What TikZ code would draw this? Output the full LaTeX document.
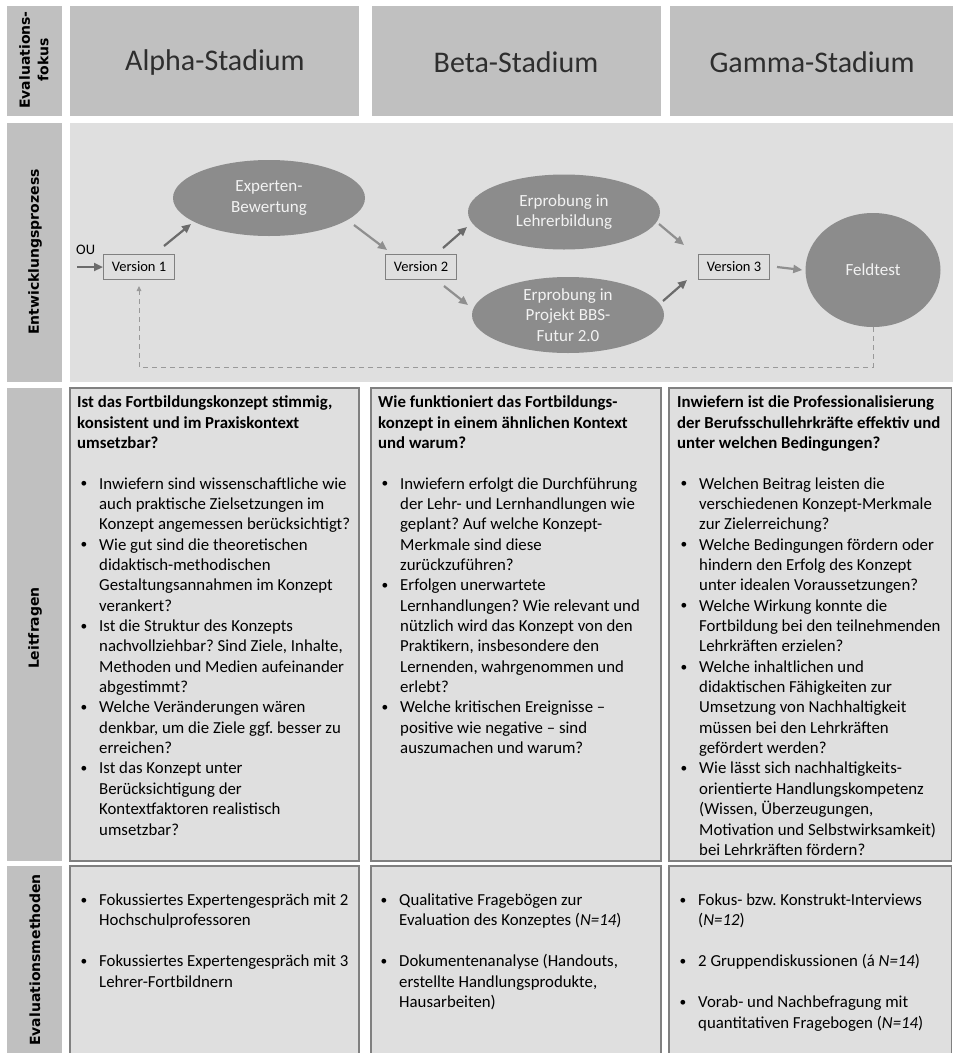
\documentclass[tikz,border=0pt]{standalone}
\usepackage{fontspec}
\setmainfont{Carlito}
\newfontfamily\lblfont{DejaVu Sans}
\usepackage{array}
\usepackage{graphicx}
\usetikzlibrary{arrows.meta,shapes.geometric,calc}
\definecolor{hdrgray}{gray}{0.753}
\definecolor{pnlgray}{gray}{0.875}
\definecolor{ellgray}{gray}{0.55}
\definecolor{brdgray}{gray}{0.5}
\definecolor{arrdark}{gray}{0.42}
\definecolor{arrlight}{gray}{0.56}
\definecolor{dashgray}{gray}{0.6}
\definecolor{elltext}{gray}{0.95}
\newcommand\qfont{\fontsize{16.8pt}{20.35pt}\selectfont}
\newcommand\mfont{\fontsize{16.8pt}{20.5pt}\selectfont}
\newcommand\vfont{\fontsize{14.5pt}{17pt}\selectfont}
\newcommand\bl{\makebox[22pt][l]{\hspace{3.5pt}\raisebox{0.15ex}{\scalebox{0.8}{\textbullet}}}}
\newcommand\ttl[1]{\multicolumn{2}{@{}l@{}}{\bfseries #1}}
\frenchspacing
\begin{document}
\begin{tikzpicture}[x=1pt,y=-1pt,
  hdrbox/.style={fill=hdrgray},
  lbl/.style={rotate=90, font=\lblfont\bfseries\fontsize{14pt}{18.5pt}\selectfont, align=center, inner sep=0pt},
  stage/.style={font=\fontsize{30pt}{36pt}\selectfont, text=black!82, inner sep=0pt},
  qbox/.style={draw=brdgray, fill=pnlgray, line width=1.2pt},
  ver/.style={draw=brdgray, fill=pnlgray, line width=1pt, minimum width=71pt, minimum height=25pt, inner sep=0pt, font=\vfont},
  proc/.style={ellipse, fill=ellgray, text=elltext, align=center, inner sep=0pt, font=\fontsize{17pt}{20.5pt}\selectfont},
  arrd/.style={-{Triangle[length=9pt,width=8pt]}, line width=2.2pt, draw=arrdark, fill=arrdark},
  arrl/.style={-{Triangle[length=9pt,width=8pt]}, line width=2.2pt, draw=arrlight, fill=arrlight},
  fb/.style={-{Triangle[length=5pt,width=4.5pt]}, line width=1pt, draw=dashgray, dash pattern=on 5pt off 4pt},
  txt/.style={anchor=north west, inner sep=0pt}
]
\fill[white] (0,0) rectangle (953,1053);
\useasboundingbox (0,0) rectangle (953,1053);
\begin{scope}
\clip (0,0) rectangle (953,1053);

% ---------- row 1: header ----------
\fill[hdrbox] (7,6) rectangle (62,116);
\fill[hdrbox] (70,6) rectangle (359,116);
\fill[hdrbox] (372,6) rectangle (661,116);
\fill[hdrbox] (670,6) rectangle (953,116);
\node[lbl] (lab1) at (34,60) {Evaluations-\\fokus};
\node[stage] (ha) at (215,62) {Alpha-Stadium};
\node[stage] (hb) at (516,62) {Beta-Stadium};
\node[stage] (hc) at (812,62) {Gamma-Stadium};

% ---------- row 2: process ----------
\fill[hdrbox] (7,123) rectangle (62,382);
\fill[pnlgray] (70,123) rectangle (953,382);
\node[lbl] (lab2) at (35,252) {Entwicklungsprozess};

\node[proc, minimum width=192pt, minimum height=76pt] (exp) at (269,198) {Experten-\\Bewertung};
\node[proc, minimum width=192pt, minimum height=75pt] (lehr) at (564,212) {Erprobung in\\Lehrerbildung};
\node[proc, minimum width=192pt, minimum height=76pt] (proj) at (568,315) {Erprobung in\\Projekt BBS-\\Futur 2.0};
\node[proc, minimum width=135pt, minimum height=114pt] (feld) at (873,270) {Feldtest};

\node[ver] (v1) at (139,267) {Version 1};
\node[ver] (v2) at (421,267) {Version 2};
\node[ver] (v3) at (734,267) {Version 3};

\coordinate (ou) at (77,267);
\node[anchor=west, inner sep=0pt, font=\vfont] (oulbl) at (76,250) {OU};
\draw[arrd] (ou) -- (v1.west);
\draw[arrd] ($(v1.north)+(25,-8)$) -- ($(exp.center)+(-78,26)$);
\draw[arrl] ($(exp.center)+(85,27)$) -- ($(v2.north)+(-34,-4)$);
\draw[arrd] ($(v2.north)+(22,-6)$) -- ($(lehr.center)+(-97,15)$);
\draw[arrl] ($(v2.south)+(23,6)$) -- ($(proj.center)+(-100,-10)$);
\draw[arrl] ($(lehr.center)+(95,12)$) -- ($(v3.north)+(-50,-9)$);
\draw[arrd] ($(proj.center)+(95,-14)$) -- ($(v3.south)+(-47,0)$);
\draw[arrl] ($(v3.east)+(7,0)$) -- ($(feld.west)+(-3,0)$);

\coordinate (fbk) at (0,367);
\coordinate (v1tip) at ($(v1.south)+(0,6)$);
\draw[fb] (feld.south) -- (feld.south |- fbk) -| (v1tip);

% ---------- row 3: Leitfragen ----------
\fill[hdrbox] (7,388) rectangle (62,861);
\node[lbl] (lab3) at (35,628) {Leitfragen};
\draw[qbox] (70,388) rectangle (359,861);
\draw[qbox] (371,388) rectangle (661,861);
\draw[qbox] (669,388) rectangle (951.5,861);

\node[txt, font=\qfont] (q1) at (77,393.2) {\begin{tabular}{@{}l@{}l@{}}
\ttl{Ist das Fortbildungskonzept stimmig,}\\
\ttl{konsistent und im Praxiskontext}\\
\ttl{umsetzbar?}\\
 & \\
\bl & Inwiefern sind wissenschaftliche wie\\
 & auch praktische Zielsetzungen im\\
 & Konzept angemessen berücksichtigt?\\
\bl & Wie gut sind die theoretischen\\
 & didaktisch-methodischen\\
 & Gestaltungsannahmen im Konzept\\
 & verankert?\\
\bl & Ist die Struktur des Konzepts\\
 & nachvollziehbar? Sind Ziele, Inhalte,\\
 & Methoden und Medien aufeinander\\
 & abgestimmt?\\
\bl & Welche Veränderungen wären\\
 & denkbar, um die Ziele ggf. besser zu\\
 & erreichen?\\
\bl & Ist das Konzept unter\\
 & Berücksichtigung der\\
 & Kontextfaktoren realistisch\\
 & umsetzbar?
\end{tabular}};

\node[txt, font=\qfont] (q2) at (378,393.2) {\begin{tabular}{@{}l@{}l@{}}
\ttl{Wie funktioniert das Fortbildungs-}\\
\ttl{konzept in einem ähnlichen Kontext}\\
\ttl{und warum?}\\
 & \\
\bl & Inwiefern erfolgt die Durchführung\\
 & der Lehr- und Lernhandlungen wie\\
 & geplant? Auf welche Konzept-\\
 & Merkmale sind diese\\
 & zurückzuführen?\\
\bl & Erfolgen unerwartete\\
 & Lernhandlungen? Wie relevant und\\
 & nützlich wird das Konzept von den\\
 & Praktikern, insbesondere den\\
 & Lernenden, wahrgenommen und\\
 & erlebt?\\
\bl & Welche kritischen Ereignisse –\\
 & positive wie negative – sind\\
 & auszumachen und warum?
\end{tabular}};

\node[txt, font=\qfont] (q3) at (677,393.2) {\begin{tabular}{@{}l@{}l@{}}
\ttl{Inwiefern ist die Professionalisierung}\\
\ttl{der Berufsschullehrkräfte effektiv und}\\
\ttl{unter welchen Bedingungen?}\\
 & \\
\bl & Welchen Beitrag leisten die\\
 & verschiedenen Konzept-Merkmale\\
 & zur Zielerreichung?\\
\bl & Welche Bedingungen fördern oder\\
 & hindern den Erfolg des Konzept\\
 & unter idealen Voraussetzungen?\\
\bl & Welche Wirkung konnte die\\
 & Fortbildung bei den teilnehmenden\\
 & Lehrkräften erzielen?\\
\bl & Welche inhaltlichen und\\
 & didaktischen Fähigkeiten zur\\
 & Umsetzung von Nachhaltigkeit\\
 & müssen bei den Lehrkräften\\
 & gefördert werden?\\
\bl & Wie lässt sich nachhaltigkeits-\\
 & orientierte Handlungskompetenz\\
 & (Wissen, Überzeugungen,\\
 & Motivation und Selbstwirksamkeit)\\
 & bei Lehrkräften fördern?
\end{tabular}};

% ---------- row 4: Evaluationsmethoden ----------
\fill[hdrbox] (7,866) rectangle (62,1060);
\node[lbl] (lab4) at (35,960) {Evaluationsmethoden};
\draw[qbox] (70,866) rectangle (359,1070);
\draw[qbox] (371,866) rectangle (661,1070);
\draw[qbox] (669,866) rectangle (951.5,1070);

\node[txt, font=\mfont] (m1) at (77,890.8) {\begin{tabular}{@{}l@{}l@{}}
\bl & Fokussiertes Expertengespräch mit 2\\
 & Hochschulprofessoren\\
 & \\
\bl & Fokussiertes Expertengespräch mit 3\\
 & Lehrer-Fortbildnern
\end{tabular}};

\node[txt, font=\mfont] (m2) at (377,890.8) {\begin{tabular}{@{}l@{}l@{}}
\bl & Qualitative Fragebögen zur\\
 & Evaluation des Konzeptes (\textit{N=14})\\
 & \\
\bl & Dokumentenanalyse (Handouts,\\
 & erstellte Handlungsprodukte,\\
 & Hausarbeiten)
\end{tabular}};

\node[txt, font=\mfont] (m3) at (676,890.8) {\begin{tabular}{@{}l@{}l@{}}
\bl & Fokus- bzw. Konstrukt-Interviews\\
 & (\textit{N=12})\\
 & \\
\bl & 2 Gruppendiskussionen (á \textit{N=14})\\
 & \\
\bl & Vorab- und Nachbefragung mit\\
 & quantitativen Fragebogen (\textit{N=14})
\end{tabular}};
\end{scope}
\end{tikzpicture}
\end{document}
